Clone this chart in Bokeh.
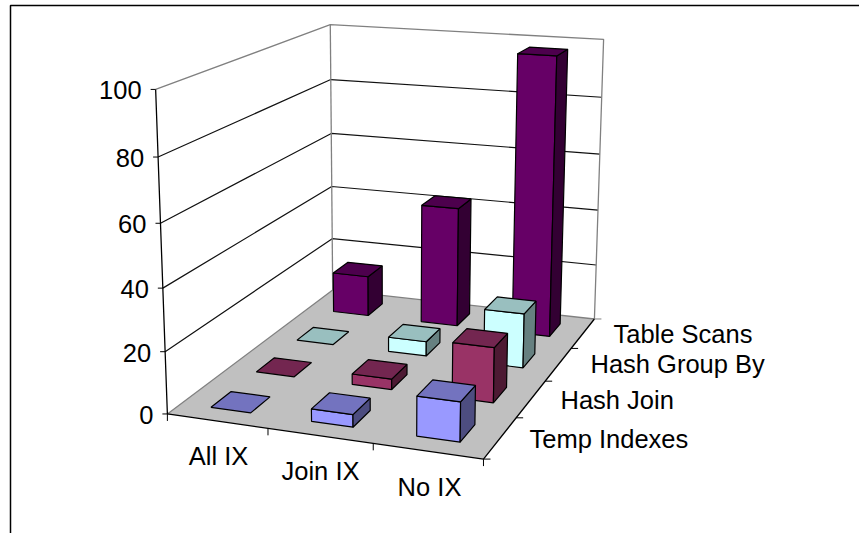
import numpy as np
from bokeh.plotting import figure
from bokeh.embed import file_html
from bokeh.resources import INLINE
from bokeh.core.properties import value

# query plan operators per index configuration
configs = ["All IX", "Join IX", "No IX"]
operators = ["Temp Indexes", "Hash Join", "Hash Group By", "Table Scans"]
temp_indexes = [0, 4, 12.5]
hash_join = [0, 3.5, 18]
hash_group_by = [0, 5, 18.5]
table_scans = [14.5, 42.5, 97.5]
series = [temp_indexes, hash_join, hash_group_by, table_scans]
value_ticks = [0, 20, 40, 60, 80, 100]

face_colors = [
    ("#9999FF", "#7373BF", "#4D4D80"),
    ("#993366", "#732650", "#4D1A33"),
    ("#CCFFFF", "#99BFBF", "#668080"),
    ("#660066", "#4D004D", "#330033"),
]

# camera calibration: unit box corners (category, depth, height) and their screen spots
box = [(0,0,0),(1,0,0),(1,1,0),(0,1,0),(0,0,1),(0,1,1),(1,1,1)]
screen = [(167,413),(483,459),(594,318),(332,290),(155,89),(330,24),(603,39)]
rows = []
for (a, b, c), (sx, sy) in zip(box, screen):
    rows.append([a, b, c, 1, 0, 0, 0, 0, -sx*a, -sx*b, -sx*c, -sx])
    rows.append([0, 0, 0, 0, a, b, c, 1, -sy*a, -sy*b, -sy*c, -sy])
camera = np.linalg.svd(np.array(rows, float))[2][-1].reshape(3, 4)

def project(a, b, c):
    q = camera @ np.array([a, b, c, 1.0])
    return float(q[0] / q[2]), float(q[1] / q[2])

def face(*corners):
    pts = [project(*k) for k in corners]
    return [q[0] for q in pts], [q[1] for q in pts]

p = figure(width=859, height=533, x_range=(0, 859), y_range=(533, 0),
           output_backend="svg", toolbar_location=None, min_border=0,
           outline_line_color=None, background_fill_color="white")
p.xaxis.visible = False
p.yaxis.visible = False
p.grid.visible = False

GRAY = "#808080"
BLACK = "#000000"
FONT = value("Liberation Sans")
SIZE = "25.5px"

# chart frame, only its left and top edges are in view
p.line([10, 10, 859], [533, 5, 5], line_color=BLACK, line_width=1.5)

# floor
fx, fy = face((0,0,0),(1,0,0),(1,1,0),(0,1,0))
p.patch(fx, fy, fill_color="#C0C0C0", line_color=None)

# walls and gridlines
for v in value_ticks[1:-1]:
    h = v / 100
    x, y = face((0,0,h),(0,1,h),(1,1,h))
    p.line(x, y, line_color="#111111", line_width=1.2)
x, y = face((0,0,1),(0,1,1),(1,1,1),(1,1,0),(0,1,0))
p.line(x, y, line_color=GRAY, line_width=1.3)
x, y = face((0,1,0),(0,1,1))
p.line(x, y, line_color=GRAY, line_width=1.3)
x, y = face((0,0,0),(0,1,0))
p.line(x, y, line_color=GRAY, line_width=1.3)

# axis lines
x, y = face((0,0,1),(0,0,0),(1,0,0),(1,1,0))
p.line(x, y, line_color=BLACK, line_width=1.3)

tick_x, tick_y, tick_t = [], [], []
for v in value_ticks:
    sx, sy = project(0, 0, v / 100)
    p.line([sx - 5, sx], [sy, sy], line_color=BLACK, line_width=1)
    tick_x.append(sx - 14)
    tick_y.append(sy + 1)
    tick_t.append(str(v))
p.text(tick_x, tick_y, text=tick_t, text_font=FONT, text_font_size=SIZE,
       text_align="right", text_baseline="middle", text_color=BLACK)

for i in range(len(configs) + 1):
    sx, sy = project(i / 3, 0, 0)
    p.line([sx, sx], [sy, sy + 7], line_color=BLACK, line_width=1)
for j in range(len(operators) + 1):
    sx, sy = project(1, j / 4, 0)
    p.line([sx, sx + 7], [sy, sy], line_color=BLACK if j < 4 else GRAY, line_width=1)

cat_pos = [(218, 455), (320, 470), (429, 486)]
for t, (sx, sy) in zip(configs, cat_pos):
    p.text([sx], [sy], text=[t], text_font=FONT, text_font_size=SIZE,
           text_align="center", text_baseline="middle", text_color=BLACK)
op_pos = [(529, 438), (560, 399), (590, 363), (613, 333)]
for t, (sx, sy) in zip(operators, op_pos):
    p.text([sx], [sy], text=[t], text_font=FONT, text_font_size=SIZE,
           text_align="left", text_baseline="middle", text_color=BLACK)

# bars, back row first and left to right within a row
BAR_U = 0.4 / 3
BAR_V = 0.43 / 4
for j in reversed(range(len(series))):
    front, top, side = face_colors[j]
    for i, val in enumerate(series[j]):
        h = val / 100
        u0 = (i + 0.5) / 3 - BAR_U / 2
        u1 = u0 + BAR_U
        v0 = (j + 0.5) / 4 - BAR_V / 2
        v1 = v0 + BAR_V
        if h > 0:
            x, y = face((u0,v0,0),(u1,v0,0),(u1,v0,h),(u0,v0,h))
            p.patch(x, y, fill_color=front, line_color=BLACK, line_width=1.2)
            x, y = face((u1,v0,0),(u1,v1,0),(u1,v1,h),(u1,v0,h))
            p.patch(x, y, fill_color=side, line_color=BLACK, line_width=1.2)
        x, y = face((u0,v0,h),(u1,v0,h),(u1,v1,h),(u0,v1,h))
        p.patch(x, y, fill_color=top, line_color=BLACK, line_width=1.2)

open("out.html", "w").write(file_html(p, INLINE))
